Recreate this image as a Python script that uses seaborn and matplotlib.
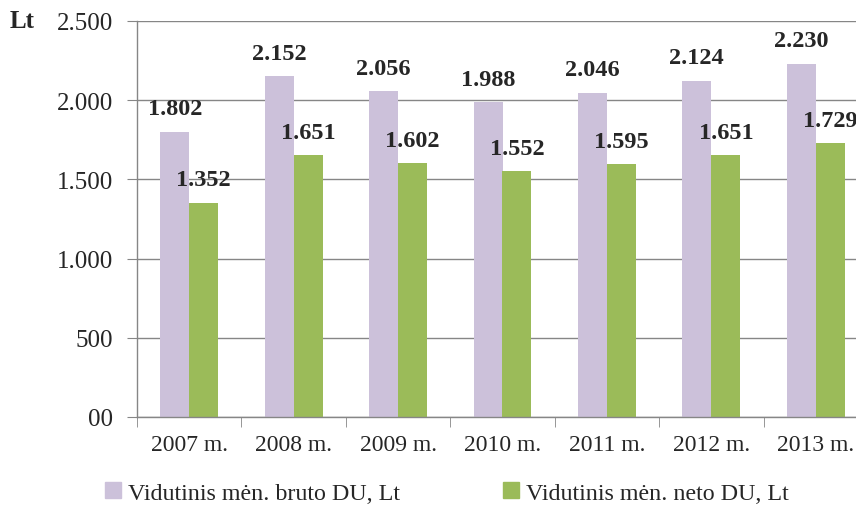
import pandas as pd
import matplotlib.pyplot as plt
import seaborn as sns
from matplotlib.ticker import FuncFormatter, FixedLocator

years = ["2007 m.", "2008 m.", "2009 m.", "2010 m.", "2011 m.", "2012 m.", "2013 m."]
bruto = [1802, 2152, 2056, 1988, 2046, 2124, 2230]
neto = [1352, 1651, 1602, 1552, 1595, 1651, 1729]
series_names = ["Vidutinis mėn. bruto DU, Lt", "Vidutinis mėn. neto DU, Lt"]

df = pd.DataFrame({
    "Metai": years * 2,
    "Lt": bruto + neto,
    "Serija": [series_names[0]] * len(years) + [series_names[1]] * len(years),
})

sns.set_style("white")
plt.rcParams["font.family"] = ["Liberation Serif", "DejaVu Serif"]

grey = "#868686"
colors = ["#CCC1DA", "#9BBB59"]

fig = plt.figure(figsize=(8.56, 5.06), dpi=100)
ax = fig.add_axes([137 / 856, 1 - 418 / 506, (868 - 137) / 856, (418 - 22) / 506])

sns.barplot(data=df, x="Metai", y="Lt", hue="Serija", palette=colors,
            width=0.555, saturation=1, linewidth=0, ax=ax, legend=False)

ax.set_ylim(0, 2500)
ax.set_xlim(-0.5, 6.5)
ax.set_yticks(range(0, 2501, 500))


def fmt(v, pos):
    if v == 0:
        return "00"
    return f"{int(v):,}".replace(",", ".")


ax.yaxis.set_major_formatter(FuncFormatter(fmt))
ax.yaxis.grid(True, color=grey, linewidth=1)
ax.set_axisbelow(True)
ax.set_xlabel("")
ax.set_ylabel("")

for s in ["top", "right"]:
    ax.spines[s].set_visible(False)
for s in ["left", "bottom"]:
    ax.spines[s].set_color(grey)
    ax.spines[s].set_linewidth(1)

ax.tick_params(axis="y", length=7, color=grey, labelsize=18, pad=10, left=True)
ax.tick_params(axis="x", which="major", length=0, labelsize=17, pad=12)
ax.xaxis.set_minor_locator(FixedLocator([i - 0.5 for i in range(len(years) + 1)]))
ax.tick_params(axis="x", which="minor", length=7, color=grey, bottom=True)

for cont, vals in zip(ax.containers, [bruto, neto]):
    ax.bar_label(cont, labels=[f"{v:,}".replace(",", ".") for v in vals],
                 padding=9, fontsize=17.5, fontweight="bold")

fig.text(10 / 856, 1 - 22 / 506, "Lt", fontsize=18, fontweight="bold",
         va="center", ha="left")

handles = [plt.Rectangle((0, 0), 1, 1, color=c) for c in colors]
fig.legend(handles, series_names, loc="center", bbox_to_anchor=(0.522, 1 - 494 / 506),
           ncol=2, frameon=False, fontsize=17.3, handlelength=0.65, handleheight=0.65,
           handletextpad=0.3, columnspacing=4.3)

fig.savefig("out.png", dpi=100)
